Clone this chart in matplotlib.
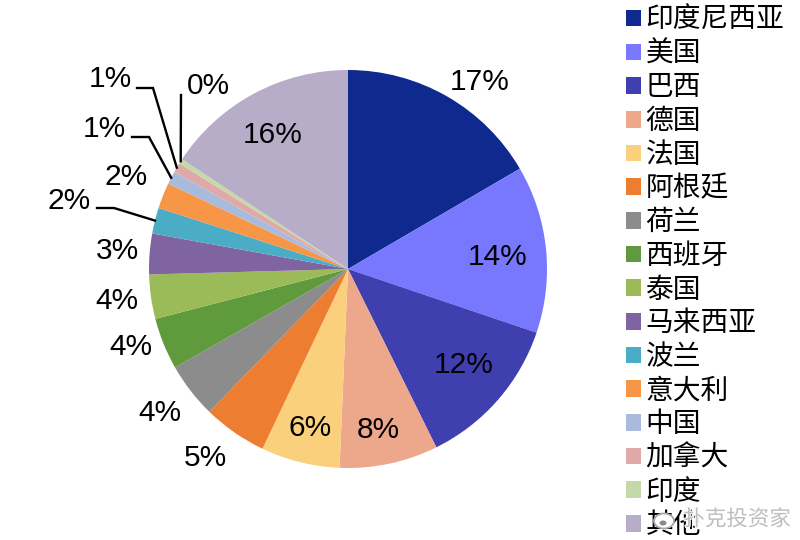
import numpy as np
import matplotlib
matplotlib.use('Agg')
import matplotlib.pyplot as plt
from matplotlib.patches import Ellipse
from matplotlib import patheffects as pe

plt.rcParams['font.family'] = ['Liberation Sans', 'Noto Sans CJK SC', 'DejaVu Sans']

countries = ['印度尼西亚', '美国', '巴西', '德国', '法国', '阿根廷', '荷兰', '西班牙',
             '泰国', '马来西亚', '波兰', '意大利', '中国', '加拿大', '印度', '其他']
shares = [16.6, 13.6, 12.5, 8.0, 6.4, 5.2, 4.5, 4.2, 3.6, 3.3, 2.1, 2.1, 1.05, 0.8, 0.4, 15.7]
pct_labels = ['17%', '14%', '12%', '8%', '6%', '5%', '4%', '4%',
              '4%', '3%', '2%', '2%', '1%', '1%', '0%', '16%']
colors = ['#0F298F', '#7878FF', '#3F3FB0', '#EDA78A', '#FBD07C', '#ED7D31', '#8C8C8C', '#5F9B3C',
          '#9BBB59', '#8064A2', '#4BACC6', '#F79646', '#A9BBDC', '#E0A9A9', '#C4D8A8', '#B8ADC8']

# label centres in picture pixels, y measured from the top
label_pos = [(480, 82), (498, 257), (464, 365), (378, 430), (310, 428), (205, 458),
             (160, 413), (131, 347), (117, 301), (117, 251), (69, 201), (126, 177),
             (104, 129), (110, 79), (208, 86), (273, 135)]
# elbows of the leader lines, keyed by slice index
leaders = {10: [(97, 208), (114, 208)],
           12: [(132, 137), (149, 137)],
           13: [(137, 88), (153, 88)],
           14: [(181, 95)]}

CX, CY, R = 348, 269, 199
W, H = 800, 540

fig = plt.figure(figsize=(8, 5.4), dpi=100)
ax = fig.add_axes([0, 0, 1, 1])

# y axis runs downward, so counterclock here comes out clockwise on the picture
wedges, _ = ax.pie(shares, colors=colors, center=(CX, CY), radius=R,
                   startangle=-90, counterclock=True, frame=True,
                   wedgeprops={'linewidth': 0})
ax.set_xlim(0, W)
ax.set_ylim(H, 0)
ax.set_aspect('equal')
ax.axis('off')

for txt, (x, y) in zip(pct_labels, label_pos):
    ax.text(x, y, txt, fontsize=21.5, ha='center', va='center', color='black')

for i, pts in leaders.items():
    mid = np.deg2rad((wedges[i].theta1 + wedges[i].theta2) / 2)
    end = (CX + R * np.cos(mid), CY + R * np.sin(mid))
    xs = [p[0] for p in pts] + [end[0]]
    ys = [p[1] for p in pts] + [end[1]]
    ax.plot(xs, ys, color='black', lw=1.7, solid_joinstyle='miter', zorder=3)

ax.legend(wedges, countries, loc='upper left', bbox_to_anchor=(626 / W, 1 - 8 / H),
          bbox_transform=fig.transFigure, frameon=False, fontsize=20,
          handlelength=0.54, handleheight=0.54, handletextpad=0.165,
          labelspacing=0.275, borderpad=0, borderaxespad=0)

# weibo watermark over the bottom right corner
ax.text(737, 520, '扑克投资家', fontsize=15.5, ha='center', va='center', color='#BEBEBE',
        path_effects=[pe.withStroke(linewidth=1.5, foreground='white')], zorder=6)
ax.add_patch(Ellipse((664, 521), 20, 15, fc='white', ec='#A8A8A8', lw=1.3, zorder=6))
ax.add_patch(Ellipse((663, 523), 7, 5, fc='#8A8A8A', ec='none', zorder=7))

fig.savefig('out.png', dpi=100)
